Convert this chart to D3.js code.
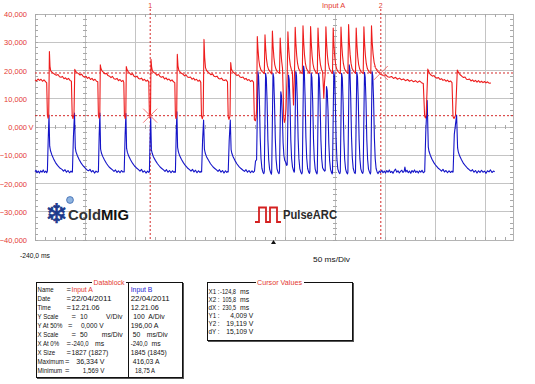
<!DOCTYPE html>
<html>
<head>
<meta charset="utf-8">
<script src="https://cdn.jsdelivr.net/npm/d3@7"></script>
<style>
body { margin: 0; background: #fff; }
svg text { font-family: "Liberation Sans", Arial, sans-serif; }
</style>
</head>
<body>
<svg id="scope" width="535" height="384"></svg>
<script>
// ---- data ----
// Input A, [time ms, volts]
const voltageA = [
  [-240,16.7],[-238.5,16.3],[-237,17.0],[-235.5,16.5],[-234,16.9],[-232.5,16.2],[-231,16.7],[-229.5,16.1],[-228.3,15.6],
  [-227.6,4.3],[-227,3.1],[-226.3,3.8],
  [-225.6,26.7],[-225,21.5],[-224.3,19.9],[-223,19.4],[-221.5,19.0],[-220,18.6],[-218.5,18.3],[-217,18.6],[-215.5,17.8],[-214,17.6],[-212.5,17.9],[-211,17.1],[-209.5,17.4],[-208,16.8],[-206.5,17.2],[-205,16.5],[-203.6,16.2],
  [-202.8,4.1],[-202,3.0],[-201,4.6],
  [-200.2,20.4],[-199.5,19.8],[-198,19.2],[-196.5,18.9],[-195,18.4],[-193.5,18.7],[-192,18.0],[-190.5,17.6],[-189,17.9],[-187.5,17.2],[-186,17.6],[-184.5,16.8],[-183,17.2],[-181.5,16.5],[-180,16.9],[-178.5,16.2],[-177.2,16.0],
  [-176.6,4.0],[-175.8,3.1],[-175.2,4.4],
  [-174.7,22.0],[-174,20.6],[-173,19.9],[-171.5,19.3],[-170,18.8],[-168.5,19.0],[-167,18.2],[-165.5,18.0],[-164,17.5],[-162.5,17.9],[-161,17.1],[-159.5,16.9],[-158,17.2],[-156.5,16.4],[-155,16.8],[-153.5,16.1],[-152,16.5],[-151.2,15.8],
  [-150.6,4.2],[-149.8,3.0],[-149.2,4.0],
  [-148.7,21.4],[-148,20.3],[-147,19.7],[-145.5,19.1],[-144,18.5],[-142.5,18.9],[-141,18.0],[-139.5,17.7],[-138,18.0],[-136.5,17.2],[-135,17.0],[-133.5,17.3],[-132,16.5],[-130.5,16.9],[-129,16.2],[-127.5,16.6],[-126.2,15.9],
  [-125.6,4.1],[-125,3.2],[-124.5,4.5],
  [-124,24.0],[-123.3,21.0],[-122.5,19.8],[-121,19.3],[-119.5,18.9],[-118,18.3],[-116.5,18.7],[-115,17.9],[-113.5,17.6],[-112,17.9],[-110.5,17.0],[-109,17.4],[-107.5,16.7],[-106,17.0],[-104.5,16.3],[-103,16.7],[-101.5,16.0],[-100.2,15.7],
  [-99.6,4.0],[-99,3.0],[-98.3,4.3],
  [-97.7,25.7],[-97,21.6],[-96.2,20.1],[-95,19.5],[-93.5,19.0],[-92,18.7],[-90.5,18.1],[-89,18.5],[-87.5,17.7],[-86,17.5],[-84.5,17.7],[-83,16.9],[-81.5,17.3],[-80,16.6],[-78.5,16.9],[-77,16.2],[-75.5,16.6],[-74.2,15.8],
  [-73.5,3.9],[-72.7,2.9],[-71.8,4.2],
  [-71,31.0],[-70.3,24.5],[-69.5,21.0],[-68.5,20.0],[-67,19.5],[-65.5,19.0],[-64,18.5],[-62.5,18.8],[-61,18.0],[-59.5,17.8],[-58,18.0],[-56.5,17.2],[-55,17.0],[-53.5,17.3],[-52,16.6],[-50.5,16.5],[-49,16.7],[-47.5,16.0],
  [-46.8,3.6],[-46,2.7],[-45,3.9],
  [-44.3,22.8],[-43.6,20.5],[-42.6,19.7],[-41,19.2],[-39.5,18.7],[-38,18.2],[-36.5,18.5],[-35,17.7],[-33.5,17.5],[-32,17.7],[-30.5,16.9],[-29,17.2],[-27.5,16.5],[-26,16.8],[-24.5,16.1],[-23,16.5],[-21.5,15.9],
  [-20.6,2.6],[-19.6,2.2],[-18.9,3.4],
  // pulse burst
  [-18.4,6.0],[-17.7,32.0],[-17.0,27.5],[-16.2,23.8],[-15.3,21.6],[-14.2,20.3],[-12.8,19.6],[-11.4,19.2],
  [-10.7,18.9],[-10.0,32.6],[-9.3,27.8],[-8.5,24.0],[-7.6,21.7],[-6.5,20.4],[-5.1,19.7],[-3.9,19.0],
  [-3.3,18.8],[-2.6,34.0],[-1.9,28.6],[-1.1,24.6],[-0.2,22.0],[0.9,20.5],[2.3,19.6],[3.8,19.2],
  [4.5,19.0],[5.2,31.5],[5.9,26.8],[6.7,23.2],[7.5,20.8],[8.2,12.0],[8.7,3.5],[9.4,1.6],[10.2,2.8],[11.0,6.5],[11.7,14.0],
  [12.2,18.5],[12.9,33.7],[13.6,28.4],[14.4,24.5],[15.3,21.9],[16.4,20.3],[17.4,19.4],[18.0,12.0],[18.5,7.8],[19.0,13.5],
  [19.5,18.8],[20.2,35.3],[20.9,29.6],[21.7,25.3],[22.6,22.4],[23.7,20.6],[25.1,19.7],[26.6,19.1],
  [27.3,18.9],[28.0,35.8],[28.7,29.9],[29.5,25.5],[30.4,22.5],[31.5,20.7],[32.9,19.8],[34.3,19.2],
  [34.9,19.0],[35.6,35.6],[36.3,29.7],[37.1,25.2],[38.0,22.3],[39.1,20.5],[40.5,19.6],[41.7,19.1],
  [42.3,18.9],[43.0,35.0],[43.7,29.3],[44.5,25.0],[45.4,22.2],[46.5,20.4],[47.6,19.5],[48.3,14.5],[48.8,10.2],[49.5,15.8],
  [50.2,18.7],[50.9,35.5],[51.6,29.6],[52.4,25.3],[53.3,22.4],[54.4,20.6],[55.8,19.7],[56.9,19.2],
  [57.5,19.0],[58.2,35.0],[58.9,29.4],[59.7,25.1],[60.6,22.2],[61.7,20.5],[63.1,19.6],[64.6,19.1],
  [65.3,18.9],[66.0,35.4],[66.7,29.6],[67.5,25.3],[68.4,22.4],[69.5,20.6],[70.9,19.7],[72.3,19.2],
  [72.9,19.0],[73.6,36.3],[74.3,30.2],[75.1,25.7],[76.0,22.6],[77.1,20.7],[78.5,19.8],[79.9,19.2],
  [80.5,19.0],[81.2,35.0],[81.9,29.3],[82.7,25.0],[83.6,22.2],[84.7,20.5],[86.1,19.6],[87.6,19.1],
  [88.2,18.9],[88.9,35.5],[89.6,29.6],[90.4,25.3],[91.3,22.4],[92.4,20.6],[93.8,19.7],[95.2,19.2],
  [95.8,19.0],[96.5,35.8],[97.2,30.0],[98.1,25.8],[99.1,22.9],[100.5,21.0],[102.5,19.7],[104.5,19.1],
  [106.5,18.5],[108.5,18.2],[110.5,18.5],[112.5,17.8],[114.5,17.6],[116.5,17.9],[118.5,17.2],[120.5,17.6],[122.5,16.9],[124.5,17.3],[126.5,16.7],[128.5,17.0],[130.5,16.4],[132.5,16.8],[134.5,16.2],[136.5,16.6],[138.5,16.0],[140.5,16.4],[142.5,15.8],[144.5,16.3],[146.5,15.7],[148.3,15.4],
  [149.6,4.0],[150.4,3.2],[151.2,4.3],
  [152.8,20.5],[153.5,19.8],[154.5,19.0],[156,18.4],[157.5,18.0],[159,18.2],[160.5,17.5],[162,17.3],[163.5,17.5],[165,16.8],[166.5,17.1],[168,16.5],[169.5,16.8],[171,16.2],[172.5,16.6],[174,16.0],[175.5,16.3],[177,15.7],
  [178,3.7],[179,3.0],[180.5,4.1],
  [182.3,20.2],[183,19.6],[184,19.0],[185.5,18.4],[187,17.9],[188.5,17.5],[190,17.7],[191.5,16.9],[193,16.8],[194.5,17.0],[196,16.3],[197.5,16.7],[199,16.1],[200.5,16.5],[202,15.9],[203.5,16.4],[205,15.8],[206.5,16.2],[208,15.7],[209.5,16.1],[211,15.6],[212.5,16.0],[214,15.5],[216,15.6]
];

// Input B, [time ms, amps]
const currentB = [
  [-240,38],[-239,43],[-238,34],[-236.8,40],[-235.5,33],[-234.3,41],[-233,36],[-231.8,44],[-230.5,35],[-229.3,40],[-228.3,34],
  [-227.6,40],[-226.8,150],[-226.0,238],[-225.3,128],[-224.5,112],[-223.2,98],[-221.5,84],[-219.5,70],[-217.5,60],[-215.5,52],[-213,46],[-211.5,40],[-210,45],[-208.5,36],[-207,42],[-205.5,34],[-204,40],[-203,36],
  [-202.6,37],[-201.6,160],[-200.5,245],[-199.7,122],[-199,108],[-197.7,95],[-196,82],[-194,69],[-192,59],[-190,51],[-188,44],[-186.5,41],[-185,46],[-183.5,37],[-182,42],[-180.5,33],[-179,40],[-177.8,36],
  [-176.6,38],[-175.8,170],[-175.1,245],[-174.4,118],[-173.6,104],[-172.3,92],[-170.5,79],[-168.5,67],[-166.5,57],[-164.5,50],[-162.5,44],[-161,39],[-159.5,44],[-158,35],[-156.5,41],[-155,34],[-153.5,42],[-152,36],[-151,39],
  [-150.8,37],[-149.9,165],[-149.1,244],[-148.4,120],[-147.6,106],[-146.3,93],[-144.5,80],[-142.5,68],[-140.5,58],[-138.5,51],[-136.5,45],[-135,40],[-133.5,46],[-132,36],[-130.5,41],[-129,33],[-127.5,40],[-126.2,35],
  [-125.6,38],[-124.9,160],[-124.3,231],[-123.6,115],[-122.8,103],[-121.5,90],[-119.5,77],[-117.5,66],[-115.5,57],[-113.5,50],[-111.5,44],[-110,39],[-108.5,45],[-107,36],[-105.5,42],[-104,34],[-102.5,41],[-101,35],[-100,39],
  [-99.6,36],[-98.8,170],[-98.1,250],[-97.4,124],[-96.6,108],[-95.3,94],[-93.5,81],[-91.5,69],[-89.5,59],[-87.5,51],[-85.5,45],[-84,40],[-82.5,46],[-81,37],[-79.5,43],[-78,34],[-76.5,41],[-75,35],[-74,39],
  [-73.4,37],[-72.4,150],[-71.4,221],[-70.6,118],[-69.8,104],[-68.5,91],[-66.5,78],[-64.5,66],[-62.5,57],[-60.5,50],[-58.5,44],[-57,39],[-55.5,45],[-54,36],[-52.5,42],[-51,33],[-49.5,41],[-48.2,35],[-47.2,39],
  [-46.8,37],[-45.8,148],[-44.7,221],[-43.9,116],[-43.1,102],[-41.8,90],[-40,77],[-38,65],[-36,56],[-34,49],[-32,43],[-30.5,39],[-29,45],[-27.5,36],[-26,42],[-24.5,34],[-23,41],[-21.8,35],
  [-20.5,40],[-19.5,75],
  // pulse burst
  [-18.4,80],[-17.6,260],[-17.1,392],[-16.4,375],[-15.6,290],[-14.8,160],[-14.0,85],[-13.1,50],[-12.1,36],[-11.2,31],
  [-10.7,38],[-9.9,255],[-9.4,386],[-8.7,370],[-7.9,285],[-7.1,150],[-6.3,80],[-5.4,47],[-4.4,35],[-3.6,29],
  [-3.3,37],[-2.5,250],[-2.0,386],[-1.3,372],[-0.5,280],[0.3,155],[1.1,82],[2.0,48],[3.0,36],[4.0,31],
  [4.5,40],[5.3,230],[5.8,321],[6.5,305],[7.3,240],[8.1,140],[8.9,95],[9.7,78],[10.6,72],[11.6,60],
  [12.2,62],[13.0,260],[13.5,380],[14.2,365],[15.0,280],[15.8,150],[16.6,85],[17.5,55],[18.5,42],[19.2,36],
  [19.5,40],[20.3,262],[20.8,392],[21.5,378],[22.3,290],[23.1,158],[23.9,84],[24.8,49],[25.8,36],[26.8,30],
  [27.3,36],[28.1,275],[28.6,412],[29.3,395],[30.1,300],[30.9,160],[31.7,86],[32.6,50],[33.6,37],[34.5,32],
  [34.9,38],[35.7,258],[36.2,386],[36.9,371],[37.7,285],[38.5,152],[39.3,82],[40.2,47],[41.2,35],[42.0,30],
  [42.3,37],[43.1,255],[43.6,386],[44.3,369],[45.1,282],[45.9,150],[46.7,84],[47.6,52],[48.6,45],[49.6,40],
  [50.2,42],[51.0,240],[51.5,339],[52.2,325],[53.0,255],[53.8,140],[54.6,78],[55.5,46],[56.5,35],[57.2,30],
  [57.5,36],[58.3,262],[58.8,392],[59.5,376],[60.3,288],[61.1,156],[61.9,83],[62.8,48],[63.8,36],[64.8,31],
  [65.3,37],[66.1,256],[66.6,386],[67.3,370],[68.1,283],[68.9,150],[69.7,81],[70.6,47],[71.6,35],[72.5,30],
  [72.9,36],[73.7,280],[74.2,416],[74.9,398],[75.7,303],[76.5,162],[77.3,87],[78.2,50],[79.2,37],[80.1,31],
  [80.5,37],[81.3,262],[81.8,390],[82.5,374],[83.3,287],[84.1,154],[84.9,83],[85.8,48],[86.8,36],[87.7,32],
  [88.2,38],[89.0,262],[89.5,390],[90.2,373],[91.0,286],[91.8,153],[92.6,82],[93.5,47],[94.5,36],[95.4,30],
  [95.8,37],[96.6,262],[97.1,392],[97.8,376],[98.6,289],[99.4,156],[100.2,84],[101.1,49],[102.1,37],[103.1,31],
  [104.3,40],[105.5,35],[106.8,43],[108,34],[109.3,40],[110.5,33],[111.8,42],[113,36],[114.3,44],[115.5,35],[116.8,39],[118,32],[119.3,41],[120.5,47],[121.8,36],[123,41],[124.3,33],[125.5,39],[126.8,43],[128,35],[129.2,40],[129.9,54],[130.8,37],[132,43],[133.3,34],[134.5,40],[135.8,32],[137,42],[138.3,36],[139.5,44],[140.8,35],[142,40],[143.3,33],[144.5,41],[145.8,36],[147,43],[148.3,34],
  [149.7,38],[150.8,180],[152.2,290],[153.3,125],[154,110],[155.3,96],[157,82],[159,69],[161,59],[163,51],[165,45],[166.5,40],[168,46],[169.5,37],[171,42],[172.5,34],[174,41],[175.5,35],[177,40],[177.8,36],
  [178.1,37],[179.3,170],[181.6,238],[182.6,122],[183.3,108],[184.6,94],[186.5,80],[188.5,67],[190.5,58],[192.5,50],[194.5,44],[196,40],[197.5,45],[199,36],[200.5,42],[202,33],[203.5,41],[205,35],[206.5,43],[208,36],[209.5,40],[211,32],[212.5,41],[214,37],[215.5,44],[217,35],[218.5,40],[219.7,38]
];

const voltTicks = [40, 30, 20, 10, 0, -10, -20, -30, -40];
const timeGrid = [-240, -190, -140, -90, -40, 10, 60, 110, 160, 210];
const cursorTimes = [-124.8, 105.8];
const cursorVolts = [4.009, 19.119];

const dbLabels = ["Name", "Date", "Time", "Y Scale", "Y At 50%", "X Scale", "X At 0%", "X Size", "Maximum", "Minimum"];
const dbInputA = ["Input A", "22/04/2011", "12.21.06", "10", "0,000 V", "50", "-240,0", "1827 (1827)", "36,334 V", "1,569 V"];
const dbUnitA  = ["", "", "", "V/Div", "", "ms/Div", "ms", "", "", ""];
const dbInputB = ["Input B", "22/04/2011", "12.21.06", "100", "196,00 A", "50", "-240,0", "1845 (1845)", "416,03 A", "18,75 A"];
const dbUnitB  = ["", "", "", "A/Div", "", "ms/Div", "ms", "", "", ""];

const cvLabels = ["X1 :", "X2 :", "dX :", "Y1 :", "Y2 :", "dY :"];
const cvValues = ["-124,8", "105,8", "230,5", "4,009 V", "19,119 V", "15,109 V"];
const cvUnits  = ["ms", "ms", "ms", "", "", ""];

// ---- drawing ----
const svg = d3.select("#scope");
const RED = "#ee1c1c", BLUE = "#1414c8", LABEL_RED = "#e43a32", INK = "#111";

const x  = d3.scaleLinear().domain([-240, 238]).range([35, 513]);
const yA = d3.scaleLinear().domain([-40, 40]).range([240, 14]);
const yB = d3.scaleLinear().domain([-204, 596]).range([240, 14]);   // 100 A/div, 196 A at centre

const fmt = d3.formatLocale({decimal: ",", thousands: ".", grouping: [3], currency: ["", ""]}).format(".3f");

// grid
const grid = svg.append("g").attr("shape-rendering", "crispEdges");
grid.selectAll(".vg").data(timeGrid).enter().append("line")
  .attr("x1", d => x(d)).attr("x2", d => x(d)).attr("y1", 14).attr("y2", 240)
  .attr("stroke", "#c4c4c4");
grid.selectAll(".hg").data(voltTicks).enter().append("line")
  .attr("x1", 35).attr("x2", 513).attr("y1", d => yA(d)).attr("y2", d => yA(d))
  .attr("stroke", "#c4c4c4");
grid.append("rect").attr("x", 35).attr("y", 14).attr("width", 478).attr("height", 226)
  .attr("fill", "none").attr("stroke", "#b4b4b4");

// minor ticks
const minor = svg.append("g").attr("stroke", "#a8a8a8").attr("shape-rendering", "crispEdges");
d3.range(-240, 238, 10).forEach(t => {
  minor.append("line").attr("x1", x(t)).attr("x2", x(t)).attr("y1", 14).attr("y2", 17);
  minor.append("line").attr("x1", x(t)).attr("x2", x(t)).attr("y1", 237).attr("y2", 240);
  minor.append("line").attr("x1", x(t)).attr("x2", x(t)).attr("y1", yA(0) - 2).attr("y2", yA(0) + 2);
});
d3.range(-40, 41, 2).forEach(v => {
  minor.append("line").attr("x1", 35).attr("x2", 38).attr("y1", yA(v)).attr("y2", yA(v));
  minor.append("line").attr("x1", 510).attr("x2", 513).attr("y1", yA(v)).attr("y2", yA(v));
  [-190, 60].forEach(t => {
    minor.append("line").attr("x1", x(t) - 2).attr("x2", x(t) + 2).attr("y1", yA(v)).attr("y2", yA(v));
  });
});

// y labels
svg.append("g").selectAll("text").data(voltTicks).enter().append("text")
  .attr("x", 27).attr("y", d => yA(d) + 3)
  .attr("text-anchor", "end").attr("font-size", 7.5).attr("fill", LABEL_RED)
  .text(d => fmt(d));
svg.append("text").attr("x", 28.5).attr("y", yA(0) + 3).attr("font-size", 7.5)
  .attr("fill", LABEL_RED).text("V");

// cursors
const cur = svg.append("g").attr("stroke", "#d42a2a").attr("stroke-dasharray", "2,2");
cursorVolts.forEach(v => {
  cur.append("line").attr("x1", 35).attr("x2", 513).attr("y1", yA(v)).attr("y2", yA(v));
});
cursorTimes.forEach(t => {
  cur.append("line").attr("x1", x(t)).attr("x2", x(t)).attr("y1", 9).attr("y2", 240);
});
cursorTimes.forEach((t, i) => {
  svg.append("text").attr("x", x(t)).attr("y", 8).attr("text-anchor", "middle")
    .attr("font-size", 7).attr("fill", LABEL_RED).text(i + 1);
});

// traces
const lineA = d3.line().x(d => x(d[0])).y(d => yA(d[1]));
const lineB = d3.line().x(d => x(d[0])).y(d => yB(d[1]));
svg.append("path").datum(currentB).attr("d", lineB)
  .attr("fill", "none").attr("stroke", BLUE).attr("stroke-width", 1.1).attr("stroke-linejoin", "round");
svg.append("path").datum(voltageA).attr("d", lineA)
  .attr("fill", "none").attr("stroke", RED).attr("stroke-width", 1.1).attr("stroke-linejoin", "round");

// cursor crosses
cursorTimes.forEach((t, i) => {
  const cx = x(t), cy = yA(cursorVolts[i]);
  svg.append("path").attr("d", `M${cx - 7},${cy - 7}L${cx + 7},${cy + 7}M${cx - 7},${cy + 7}L${cx + 7},${cy - 7}`)
    .attr("stroke", "#f06a6a").attr("stroke-width", 0.9);
});

svg.append("text").attr("x", 322).attr("y", 8).attr("font-size", 7.5)
  .attr("fill", LABEL_RED).text("Input A");

// trigger marker and time labels
svg.append("path").attr("d", `M${x(0) - 4},244L${x(0) - 1.5},240L${x(0) + 1},244Z`).attr("fill", INK);
svg.append("text").attr("x", 20).attr("y", 258).attr("font-size", 7.5).attr("fill", INK)
  .attr("textLength", 30).attr("lengthAdjust", "spacingAndGlyphs").text("-240,0 ms");
svg.append("text").attr("x", 313).attr("y", 262).attr("font-size", 7.5).attr("fill", INK)
  .attr("textLength", 37).attr("lengthAdjust", "spacingAndGlyphs").text("50 ms/Div");

// logos
svg.append("text").attr("x", 56.5).attr("y", 223).attr("text-anchor", "middle")
  .attr("font-size", 27).attr("fill", "#1c3a8c").attr("stroke", "#1c3a8c").attr("stroke-width", 0.7)
  .style("font-family", "DejaVu Sans").text("\u2744");
svg.append("circle").attr("cx", 70).attr("cy", 200).attr("r", 3.4)
  .attr("fill", "#8fb4e0").attr("stroke", "#3a68b0").attr("stroke-width", 0.8);
const cold = svg.append("text").attr("x", 68).attr("y", 220).attr("font-size", 15.5)
  .attr("font-weight", "bold").attr("textLength", 61).attr("lengthAdjust", "spacingAndGlyphs");
cold.append("tspan").attr("fill", "#333").text("Cold");
cold.append("tspan").attr("fill", INK).text("MIG");

svg.append("path").attr("d", "M255,222H259V207.5H266V222H270V207.5H277V222H281")
  .attr("fill", "none").attr("stroke", "#d42020").attr("stroke-width", 1.8);
svg.append("text").attr("x", 283).attr("y", 219).attr("font-size", 13.5).attr("font-weight", "bold")
  .attr("fill", "#2a2a2a").attr("textLength", 54).attr("lengthAdjust", "spacingAndGlyphs").text("PulseARC");

// boxed panels
function panel(x0, y0, x1, y1, title, titleW) {
  const g = svg.append("g").attr("shape-rendering", "crispEdges");
  g.append("rect").attr("x", x0).attr("y", y0).attr("width", x1 - x0).attr("height", y1 - y0)
    .attr("fill", "#fff").attr("stroke", INK);
  g.append("path").attr("d", `M${x1 + 1},${y0 + 1}V${y1 + 1}H${x0 + 1}`).attr("fill", "none").attr("stroke", "#555");
  const cx = (x0 + x1) / 2;
  g.append("rect").attr("x", cx - titleW / 2 - 1.5).attr("y", y0 - 2).attr("width", titleW + 3).attr("height", 4).attr("fill", "#fff");
  svg.append("text").attr("x", cx).attr("y", y0 + 2.5).attr("text-anchor", "middle")
    .attr("font-size", 8).attr("fill", LABEL_RED)
    .attr("textLength", titleW).attr("lengthAdjust", "spacingAndGlyphs").text(title);
}

// text squeezed to a width (w) or by a factor (sx)
function put(g, px, py, s, opt) {
  const t = g.append("text").attr("transform", `translate(${px},${py}) scale(${opt.sx || 1},1)`)
    .attr("text-anchor", opt.anchor || "start").attr("fill", opt.fill || INK).text(s);
  if (opt.w) t.attr("textLength", opt.w).attr("lengthAdjust", "spacingAndGlyphs");
  return t;
}

// data block
panel(36, 282, 182, 377, "Datablock", 31);
svg.append("line").attr("x1", 128.5).attr("x2", 128.5).attr("y1", 282).attr("y2", 377)
  .attr("stroke", INK).attr("shape-rendering", "crispEdges");

const eqX   = [66.5, 66.5, 66.5, 71.5, 68, 71.5, 66.5, 66.5, 65, 65];
const valAX = [71.5, 71.5, 71.5, 80, 103.5, 80, 71.5, 71.5, 104.5, 104.5];
const valAW = [0, 40, 28, 0, 22.6, 0, 17, 36.7, 28.3, 21.7];
const untAX = [0, 0, 0, 106, 0, 101.7, 95, 0, 0, 0];
const valBX = [130.7, 130.7, 130.7, 133.3, 130.7, 132.7, 130.7, 130.7, 132.7, 135];
const valBW = [0, 39, 28, 0, 27.7, 0, 17, 36, 26.7, 20];
const untBX = [0, 0, 0, 148.3, 0, 146.7, 151.5, 0, 0, 0];

const db = svg.append("g").attr("font-size", 7.6);
dbLabels.forEach((lab, i) => {
  const yy = 291.5 + i * 9.1;
  const endA = valAX[i] > 100;
  put(db, 37.5, yy, lab, {sx: 0.8});
  put(db, eqX[i], yy, "=", {});
  put(db, valAX[i], yy, dbInputA[i], {anchor: endA ? "end" : "start", w: valAW[i], sx: valAW[i] ? 1 : 0.9,
    fill: i === 0 ? LABEL_RED : INK});
  if (dbUnitA[i]) put(db, untAX[i], yy, dbUnitA[i], {sx: 0.9});
  put(db, valBX[i], yy, dbInputB[i], {w: valBW[i], sx: valBW[i] ? 1 : 0.9, fill: i === 0 ? "#1a1ad0" : INK});
  if (dbUnitB[i]) put(db, untBX[i], yy, dbUnitB[i], {sx: 0.9});
});

// cursor values
panel(207, 282, 352, 340, "Cursor Values", 45);
const cvW = [16, 13.5, 13.5, 23, 27, 27];
const cv = svg.append("g").attr("font-size", 7.6);
cvLabels.forEach((lab, i) => {
  const yy = 293.5 + i * 8.1;
  put(cv, 208.5, yy, lab, {sx: 0.82});
  put(cv, i < 3 ? 236 : 253.3, yy, cvValues[i], {anchor: "end", w: cvW[i]});
  if (cvUnits[i]) put(cv, 240, yy, cvUnits[i], {sx: 0.9});
});
</script>
</body>
</html>
